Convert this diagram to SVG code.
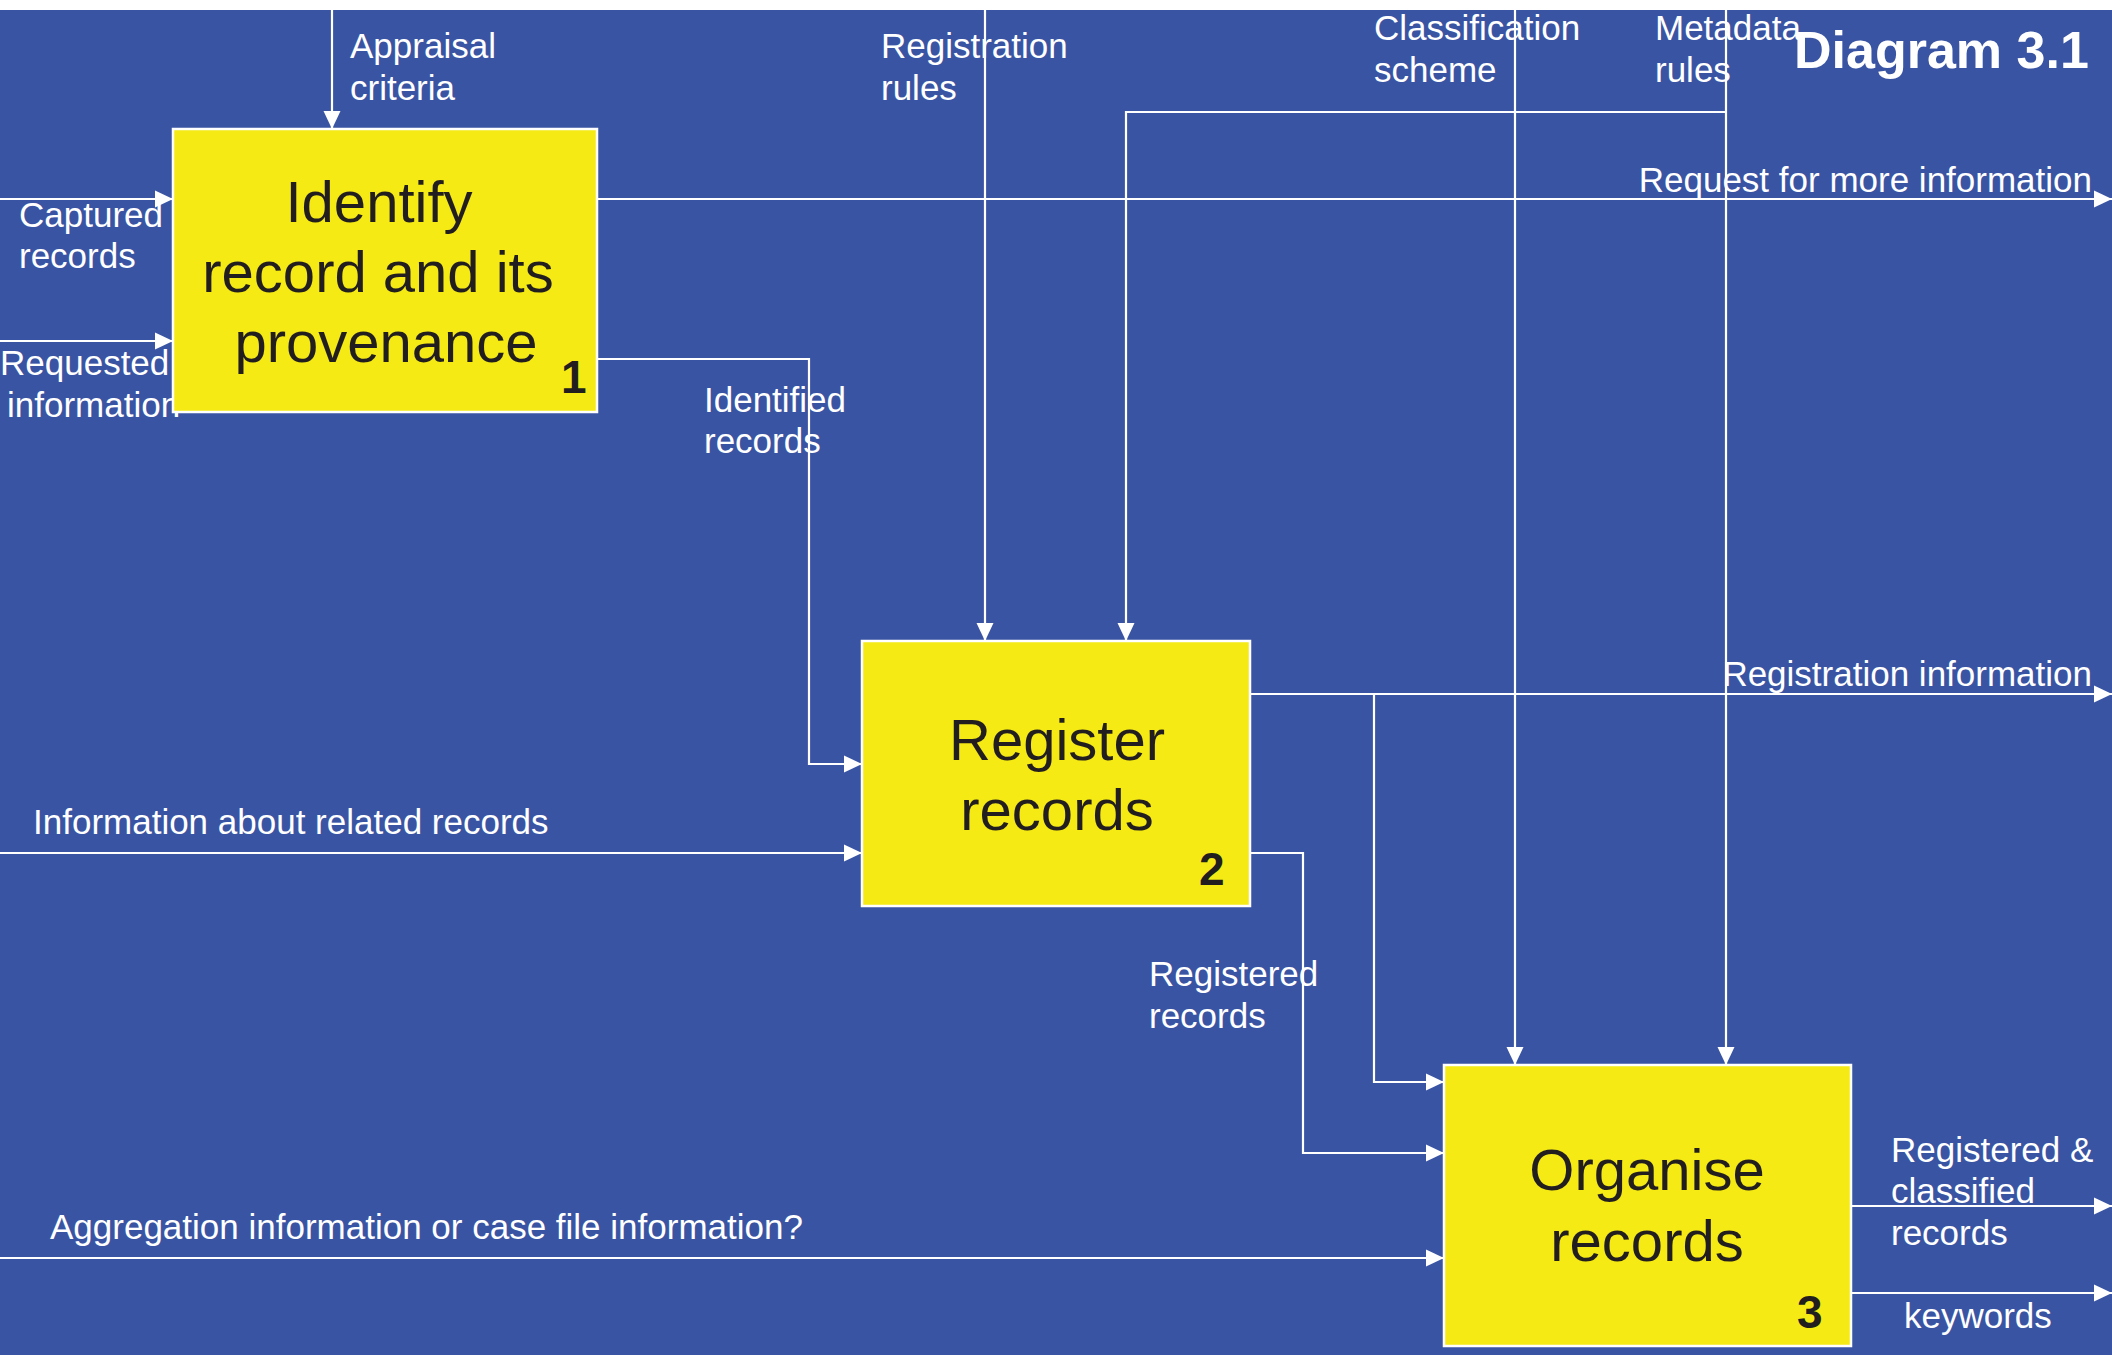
<svg xmlns="http://www.w3.org/2000/svg" width="2112" height="1355" viewBox="0 0 2112 1355">
  <defs>
    <marker id="arrow" markerUnits="userSpaceOnUse" markerWidth="18" markerHeight="18" refX="18" refY="9" orient="auto">
      <path d="M0,0.5 L18,9 L0,17.5 Z" fill="#ffffff"/>
    </marker>
    <style>
      .bg { fill: #3A54A4; }
      .box { fill: #F5EA14; stroke: #ffffff; stroke-width: 2.5; }
      .title { font-family: "Liberation Sans", Arial, sans-serif; font-size: 58px; fill: #221E1F; text-anchor: middle; }
      .num { font-family: "Liberation Sans", Arial, sans-serif; font-size: 46px; font-weight: bold; fill: #221E1F; }
      .lbl { font-family: "Liberation Sans", Arial, sans-serif; font-size: 35px; fill: #ffffff; }
      .head { font-family: "Liberation Sans", Arial, sans-serif; font-size: 52px; font-weight: bold; fill: #ffffff; }
      .wire { fill: none; stroke: #ffffff; stroke-width: 2.2; }
      .arr { marker-end: url(#arrow); }
    </style>
  </defs>

  <!-- page -->
  <rect x="0" y="0" width="2112" height="1355" fill="#ffffff"/>
  <rect class="bg" x="0" y="10" width="2112" height="1345"/>

  <text class="head" x="1794" y="68">Diagram 3.1</text>

  <!-- connectors -->
  <g id="connectors">
    <path class="wire arr" d="M332,10 V129"/>
    <path class="wire arr" d="M0,199 H173"/>
    <path class="wire arr" d="M0,341 H173"/>
    <path class="wire arr" d="M597,199 H2112"/>
    <path class="wire arr" d="M597,359 H809 V764 H862"/>
    <path class="wire arr" d="M985,10 V641"/>
    <path class="wire arr" d="M1726,10 V1065"/>
    <path class="wire arr" d="M1726,112 H1126 V641"/>
    <path class="wire arr" d="M1515,10 V1065"/>
    <path class="wire arr" d="M0,853 H862"/>
    <path class="wire arr" d="M1250,694 H2112"/>
    <path class="wire arr" d="M1374,694 V1082 H1444"/>
    <path class="wire arr" d="M1250,853 H1303 V1153 H1444"/>
    <path class="wire arr" d="M0,1258 H1444"/>
    <path class="wire arr" d="M1851,1206 H2112"/>
    <path class="wire arr" d="M1851,1293 H2112"/>

    <!-- connector labels -->
    <text class="lbl" x="350" y="58">Appraisal</text>
    <text class="lbl" x="350" y="100">criteria</text>
    <text class="lbl" x="881" y="58">Registration</text>
    <text class="lbl" x="881" y="100">rules</text>
    <text class="lbl" x="1374" y="40">Classification</text>
    <text class="lbl" x="1374" y="82">scheme</text>
    <text class="lbl" x="1655" y="40">Metadata</text>
    <text class="lbl" x="1655" y="82">rules</text>
    <text class="lbl" x="19" y="227">Captured</text>
    <text class="lbl" x="19" y="268">records</text>
    <text class="lbl" x="0" y="375">Requested</text>
    <text class="lbl" x="7" y="417">information</text>
    <text class="lbl" x="2092" y="192" text-anchor="end">Request for more information</text>
    <text class="lbl" x="704" y="412">Identified</text>
    <text class="lbl" x="704" y="453">records</text>
    <text class="lbl" x="33" y="834">Information about related records</text>
    <text class="lbl" x="2092" y="686" text-anchor="end">Registration information</text>
    <text class="lbl" x="1149" y="986">Registered</text>
    <text class="lbl" x="1149" y="1028">records</text>
    <text class="lbl" x="50" y="1239">Aggregation information or case file information?</text>
    <text class="lbl" x="1891" y="1162">Registered &amp;</text>
    <text class="lbl" x="1891" y="1203">classified</text>
    <text class="lbl" x="1891" y="1245">records</text>
    <text class="lbl" x="1904" y="1328">keywords</text>
  </g>

  <!-- activity 1 -->
  <g id="node-identify">
    <rect class="box" x="173" y="129" width="424" height="283"/>
    <text class="title" x="379" y="222">Identify</text>
    <text class="title" x="378" y="292">record and its</text>
    <text class="title" x="386" y="362">provenance</text>
    <text class="num" x="561" y="393">1</text>
  </g>

  <!-- activity 2 -->
  <g id="node-register">
    <rect class="box" x="862" y="641" width="388" height="265"/>
    <text class="title" x="1057" y="760">Register</text>
    <text class="title" x="1057" y="830">records</text>
    <text class="num" x="1199" y="885">2</text>
  </g>

  <!-- activity 3 -->
  <g id="node-organise">
    <rect class="box" x="1444" y="1065" width="407" height="281"/>
    <text class="title" x="1647" y="1190">Organise</text>
    <text class="title" x="1647" y="1261">records</text>
    <text class="num" x="1797" y="1328">3</text>
  </g>
</svg>
